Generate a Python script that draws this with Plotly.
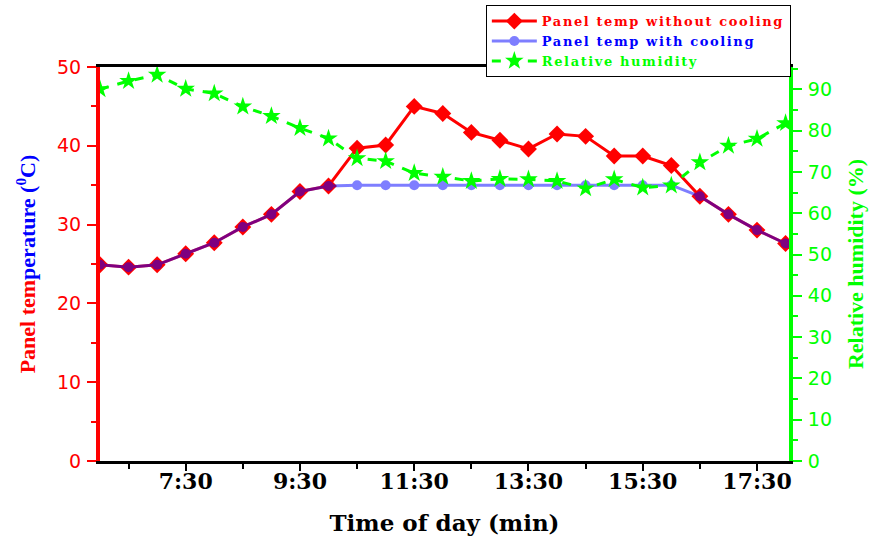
import plotly.graph_objects as go

times = ["6:00","6:30","7:00","7:30","8:00","8:30","9:00","9:30","10:00","10:30",
         "11:00","11:30","12:00","12:30","13:00","13:30","14:00","14:30","15:00",
         "15:30","16:00","16:30","17:00","17:30","18:00"]
temp_without = [24.9,24.6,24.9,26.3,27.7,29.7,31.3,34.2,34.9,39.7,40.1,45.0,44.1,
                41.7,40.7,39.6,41.5,41.2,38.7,38.7,37.5,33.6,31.3,29.3,27.6]
temp_with = [24.9,24.6,24.9,26.3,27.7,29.7,31.3,34.2,34.9,35.0,35.0,35.0,35.0,
             35.0,35.0,35.0,35.0,35.0,35.0,35.0,35.0,33.6,31.3,29.3,27.6]
humidity = [90.0,92.0,93.5,90.1,89.0,85.8,83.5,80.6,78.1,73.3,72.6,69.7,68.8,
            67.8,68.3,68.2,67.8,66.0,68.2,66.2,66.7,72.3,76.3,78.0,81.8]
tick_labels = ["7:30","9:30","11:30","13:30","15:30","17:30"]
minor_labels = ["6:30","8:30","10:30","12:30","14:30","16:30"]

def to_hours(s):
    h, m = s.split(":")
    return int(h) + int(m) / 60.0

x = [to_hours(t) for t in times]
tickvals = [to_hours(t) for t in tick_labels]
minorvals = [to_hours(t) for t in minor_labels]

SERIF = "Liberation Serif"
WIDE_SERIF = "DejaVu Serif"
SANS = "DejaVu Sans"
LS = "letter-spacing:1.6px;"

fig = go.Figure()
fig.add_trace(go.Scatter(
    x=x, y=temp_without, mode="lines+markers",
    name=f"<span style='color:#ff0000;{LS}'>Panel temp without cooling</span>",
    line=dict(color="#ff0000", width=3),
    marker=dict(symbol="diamond", size=13, color="#ff0000"),
))
fig.add_trace(go.Scatter(
    x=x, y=temp_with, mode="lines+markers",
    name=f"<span style='color:#0000ff;{LS}'>Panel temp with cooling</span>",
    line=dict(color="#0000ff", width=3),
    marker=dict(symbol="circle", size=10, color="#0000ff"),
    opacity=0.5,
))
fig.add_trace(go.Scatter(
    x=x, y=humidity, mode="lines+markers", yaxis="y2",
    name=f"<span style='color:#00ff00;{LS}'>Relative humidity</span>",
    line=dict(color="#00ff00", width=3, dash="dash"),
    marker=dict(symbol="star", size=14, color="#00ff00"),
))

fig.update_layout(
    width=872, height=539,
    margin=dict(l=100, r=83, t=67, b=78, autoexpand=False),
    plot_bgcolor="white", paper_bgcolor="white",
    showlegend=True,
    legend=dict(
        x=0.560, y=1.157, xanchor="left", yanchor="top",
        bgcolor="white", bordercolor="black", borderwidth=1,
        font=dict(family=WIDE_SERIF, size=13, color="black", weight="bold"),
        itemwidth=45, tracegroupgap=0,
    ),
    xaxis=dict(
        range=[6, 18.06],
        tickvals=tickvals, ticktext=tick_labels,
        tickfont=dict(family=WIDE_SERIF, size=22, color="black", weight="bold"),
        ticks="outside", ticklen=7, tickwidth=2, tickcolor="black",
        ticklabelstandoff=-8,
        minor=dict(tickvals=minorvals, ticks="outside", ticklen=5, tickwidth=2, tickcolor="black"),
        showline=True, linecolor="black", linewidth=3, mirror=True,
        showgrid=False, zeroline=False,
        title=dict(text="Time of day (min)", font=dict(family=WIDE_SERIF, size=23, color="black", weight="bold"), standoff=22),
    ),
    yaxis=dict(
        range=[0, 50], dtick=10,
        tickfont=dict(family=SANS, size=19, color="#ff0000"),
        ticks="outside", ticklen=9, tickwidth=2, tickcolor="#ff0000",
        minor=dict(dtick=5, ticks="outside", ticklen=5, tickwidth=2, tickcolor="#ff0000"),
        showline=True, linecolor="#ff0000", linewidth=4,
        showgrid=False, zeroline=False,
        ticklabelstandoff=2,
        title=dict(text="<span style='color:#ff0000'>Panel tem</span><span style='color:#0000ff'>perature (<sup>0</sup>C)</span>",
                   font=dict(family=SERIF, size=22, color="#ff0000", weight="bold"), standoff=16),
    ),
    yaxis2=dict(
        range=[0, 95.4], dtick=10, overlaying="y", side="right",
        tickfont=dict(family=SANS, size=19, color="#00ff00"),
        ticks="outside", ticklen=9, tickwidth=2, tickcolor="#00ff00",
        minor=dict(dtick=5, ticks="outside", ticklen=5, tickwidth=2, tickcolor="#00ff00"),
        showline=True, linecolor="#00ff00", linewidth=4,
        showgrid=False, zeroline=False,
        ticklabelstandoff=2,
        title=dict(text="Relative humidity (%)",
                   font=dict(family=SERIF, size=22, color="#00ff00", weight="bold"), standoff=18),
    ),
)

fig.write_html("out.html", config={"displayModeBar": False},
               post_script="document.body.style.margin='0px';")
